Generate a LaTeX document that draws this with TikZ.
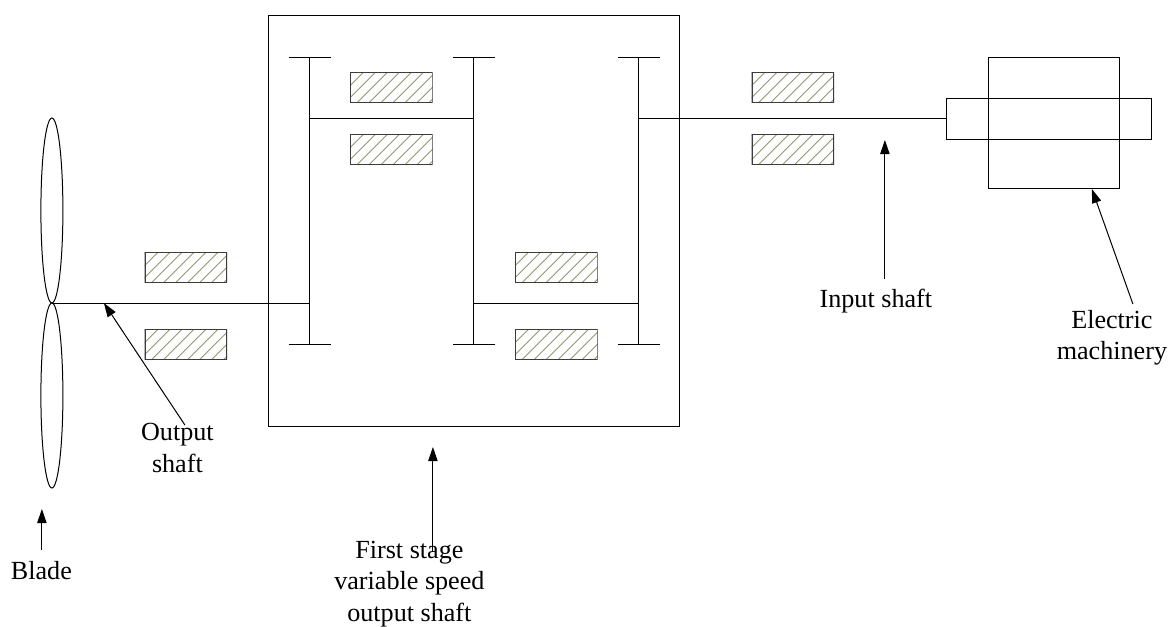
\documentclass[tikz,border=0pt]{standalone}
\usepackage{fontspec}
\setmainfont{Liberation Serif}
\usetikzlibrary{arrows.meta,shapes.geometric}
\tikzset{
  x=0.75pt,y=-0.75pt,
  ln/.style={draw=black,line width=0.75pt},
  lbl/.style={font=\fontsize{19.6}{23.6}\selectfont,inner sep=0pt,align=center,text=black},
  arr/.style={ln,-{Triangle[length=10.5pt,width=7pt]}},
  hatchbox/.style={draw=none,minimum width=62pt,minimum height=23.2pt,inner sep=0pt,
    path picture={
      \foreach \k in {-40,-31,...,80}
        \draw[draw={rgb,255:red,140;green,155;blue,110},line width=0.7pt]
          ([xshift=\k pt]path picture bounding box.south west) -- ++(24pt,24pt);
      \draw[draw={rgb,255:red,60;green,60;blue,60},line width=1.7pt]
          (path picture bounding box.south west) rectangle (path picture bounding box.north east);
    }},
}
\begin{document}
\begin{tikzpicture}
\useasboundingbox (0.1,0) rectangle (1168.1,626);
% frames
\node[ln,minimum width=308.25pt,minimum height=308.25pt,inner sep=0pt] (gearbox) at (474.5,221) {};
\node[ln,minimum width=98.25pt,minimum height=98.25pt,inner sep=0pt] (stator) at (1054.5,122.5) {};
\node[ln,minimum width=153.75pt,minimum height=30.75pt,inner sep=0pt] (rotor) at (1049.5,118.5) {};
% blades
\coordinate (hub) at (52,303);
\node[ln,ellipse,minimum width=16.5pt,minimum height=138.75pt,inner sep=0pt] (bladeU) at (52,210.5) {};
\node[ln,ellipse,minimum width=16.5pt,minimum height=138.75pt,inner sep=0pt] (bladeL) at (52,395.5) {};
% bearings
\node[hatchbox] (b1) at (391.5,87.5) {};
\node[hatchbox] (b2) at (391.5,149.5) {};
\node[hatchbox] (b3) at (793,87.5) {};
\node[hatchbox] (b4) at (793,149.5) {};
\node[hatchbox] (b5) at (186,267.5) {};
\node[hatchbox] (b6) at (186,344.5) {};
\node[hatchbox] (b7) at (556.5,267.5) {};
\node[hatchbox] (b8) at (556.5,344.5) {};
% gears
\foreach \n/\x in {g1/310,g2/474,g3/639}{
  \coordinate (\n t) at (\x,57);
  \coordinate (\n b) at (\x,344);
  \draw[ln] (\n t) -- (\n b);
  \draw[ln] ([xshift=-15.75pt]\n t) -- ([xshift=15.75pt]\n t);
  \draw[ln] ([xshift=-15.75pt]\n b) -- ([xshift=15.75pt]\n b);
}
% shafts
\coordinate (s1) at (310,303);
\coordinate (s2a) at (310,118);
\coordinate (s2b) at (474,118);
\coordinate (s3a) at (474,303);
\coordinate (s3b) at (639,303);
\coordinate (s4) at (639,118.5);
\draw[ln] (hub) -- (s1);
\draw[ln] (s2a) -- (s2b);
\draw[ln] (s3a) -- (s3b);
\draw[ln] (s4) -- (rotor.west);
% labels
\node[lbl] (blade) at (41.5,570.5) {Blade};
\node[lbl] (outshaft) at (177.5,448) {Output\\shaft};
\node[lbl] (first) at (409.5,584) {First stage\\variable speed\\output shaft};
\node[lbl] (input) at (876,301) {Input shaft};
\node[lbl] (elec) at (1112,338) {Electric\\machinery};
% pointers
\coordinate (p1s) at (42,550); \coordinate (p1e) at (42,509);
\coordinate (p2s) at (185,425); \coordinate (p2e) at (104,303);
\coordinate (p3s) at (433,552); \coordinate (p3e) at (433,447);
\coordinate (p4s) at (885,279); \coordinate (p4e) at (885,140);
\coordinate (p5s) at (1133,304); \coordinate (p5e) at (1092,189);
\draw[arr] (p1s) -- (p1e);
\draw[arr] (p2s) -- (p2e);
\draw[arr] (p3s) -- (p3e);
\draw[arr] (p4s) -- (p4e);
\draw[arr] (p5s) -- (p5e);
\end{tikzpicture}
\end{document}
